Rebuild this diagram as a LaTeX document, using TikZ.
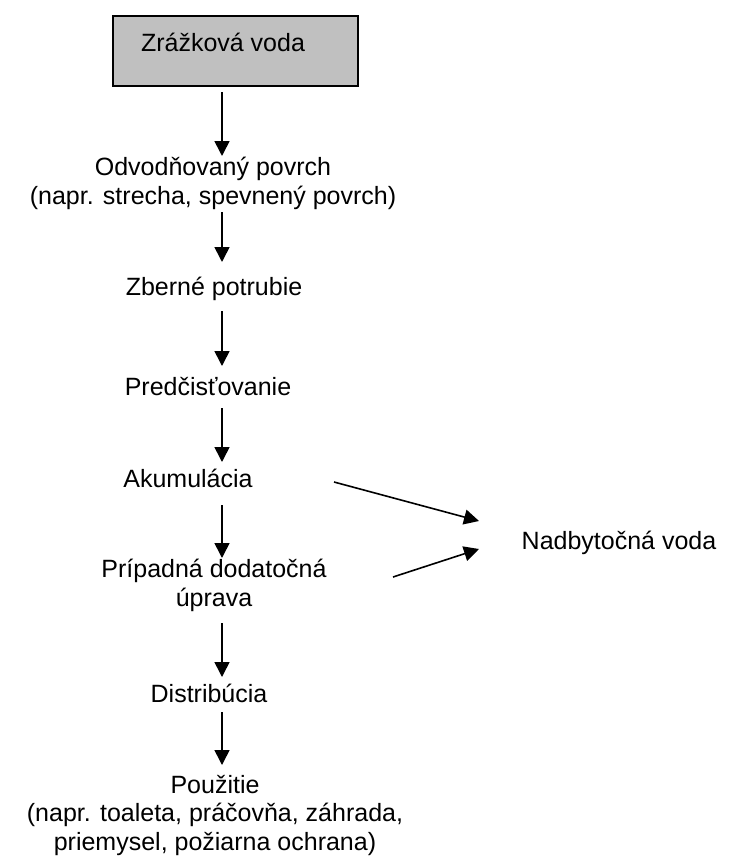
\documentclass[tikz,border=0pt]{standalone}
\usepackage{fontspec}
\setmainfont{Liberation Sans}
\usetikzlibrary{arrows.meta,calc}
\definecolor{boxgray}{HTML}{C0C0C0}
\tikzset{
  lbl/.style={font=\fontsize{25}{28.5}\selectfont, inner sep=0pt, anchor=base, align=center},
  arr/.style={line width=1.6pt, -{Triangle[length=15pt,width=15pt]}},
  topbox/.style={draw, line width=1.5pt, fill=boxgray, minimum width=245pt, minimum height=70pt, inner sep=0pt, outer sep=0pt}
}
\begin{document}
\begin{tikzpicture}[x=1pt,y=-1pt]
\useasboundingbox (0,0) rectangle (729,859);
\coordinate (ax) at (222,0);
\node[topbox] (box) at (235.5,51) {};
\node[lbl] (t0) at (223,52) {Zrážková voda};
\node[lbl] (t1) at (213,204) {Odvodňovaný povrch\\(napr. strecha, spevnený povrch)};
\node[lbl] (t2) at (214,295) {Zberné potrubie};
\node[lbl] (t3) at (208,395) {Predčisťovanie};
\node[lbl] (t4) at (188,487) {Akumulácia};
\node[lbl] (t5) at (214,606) {Prípadná dodatočná\\úprava};
\node[lbl] (t6) at (209,702) {Distribúcia};
\node[lbl] (t7) at (215,850) {Použitie\\(napr. toaleta, práčovňa, záhrada,\\priemysel, požiarna ochrana)};
\node[lbl] (t8) at (619,549) {Nadbytočná voda};
\draw[arr] ($(box.south -| ax)+(0pt,-6pt)$) -- ($(t1.base -| ax)+(0pt,48pt)$);
\draw[arr] ($(t1.base -| ax)+(0pt,-8pt)$) -- ($(t2.base -| ax)+(0pt,33pt)$);
\draw[arr] ($(t2.base -| ax)+(0pt,-16pt)$) -- ($(t3.base -| ax)+(0pt,29pt)$);
\draw[arr] ($(t3.base -| ax)+(0pt,-13pt)$) -- ($(t4.base -| ax)+(0pt,25pt)$);
\draw[arr] ($(t4.base -| ax)+(0pt,-18pt)$) -- ($(t5.base -| ax)+(0pt,48pt)$);
\draw[arr] ($(t5.base -| ax)+(0pt,-17pt)$) -- ($(t6.base -| ax)+(0pt,25pt)$);
\draw[arr] ($(t6.base -| ax)+(0pt,-10pt)$) -- ($(t7.base -| ax)+(0pt,85pt)$);
\draw[arr] ($(t4.base)+(146pt,5pt)$) -- ($(t8.base)+(-140pt,28pt)$);
\draw[arr] ($(t5.base)+(179pt,29pt)$) -- ($(t8.base)+(-140pt,0pt)$);
\end{tikzpicture}
\end{document}
